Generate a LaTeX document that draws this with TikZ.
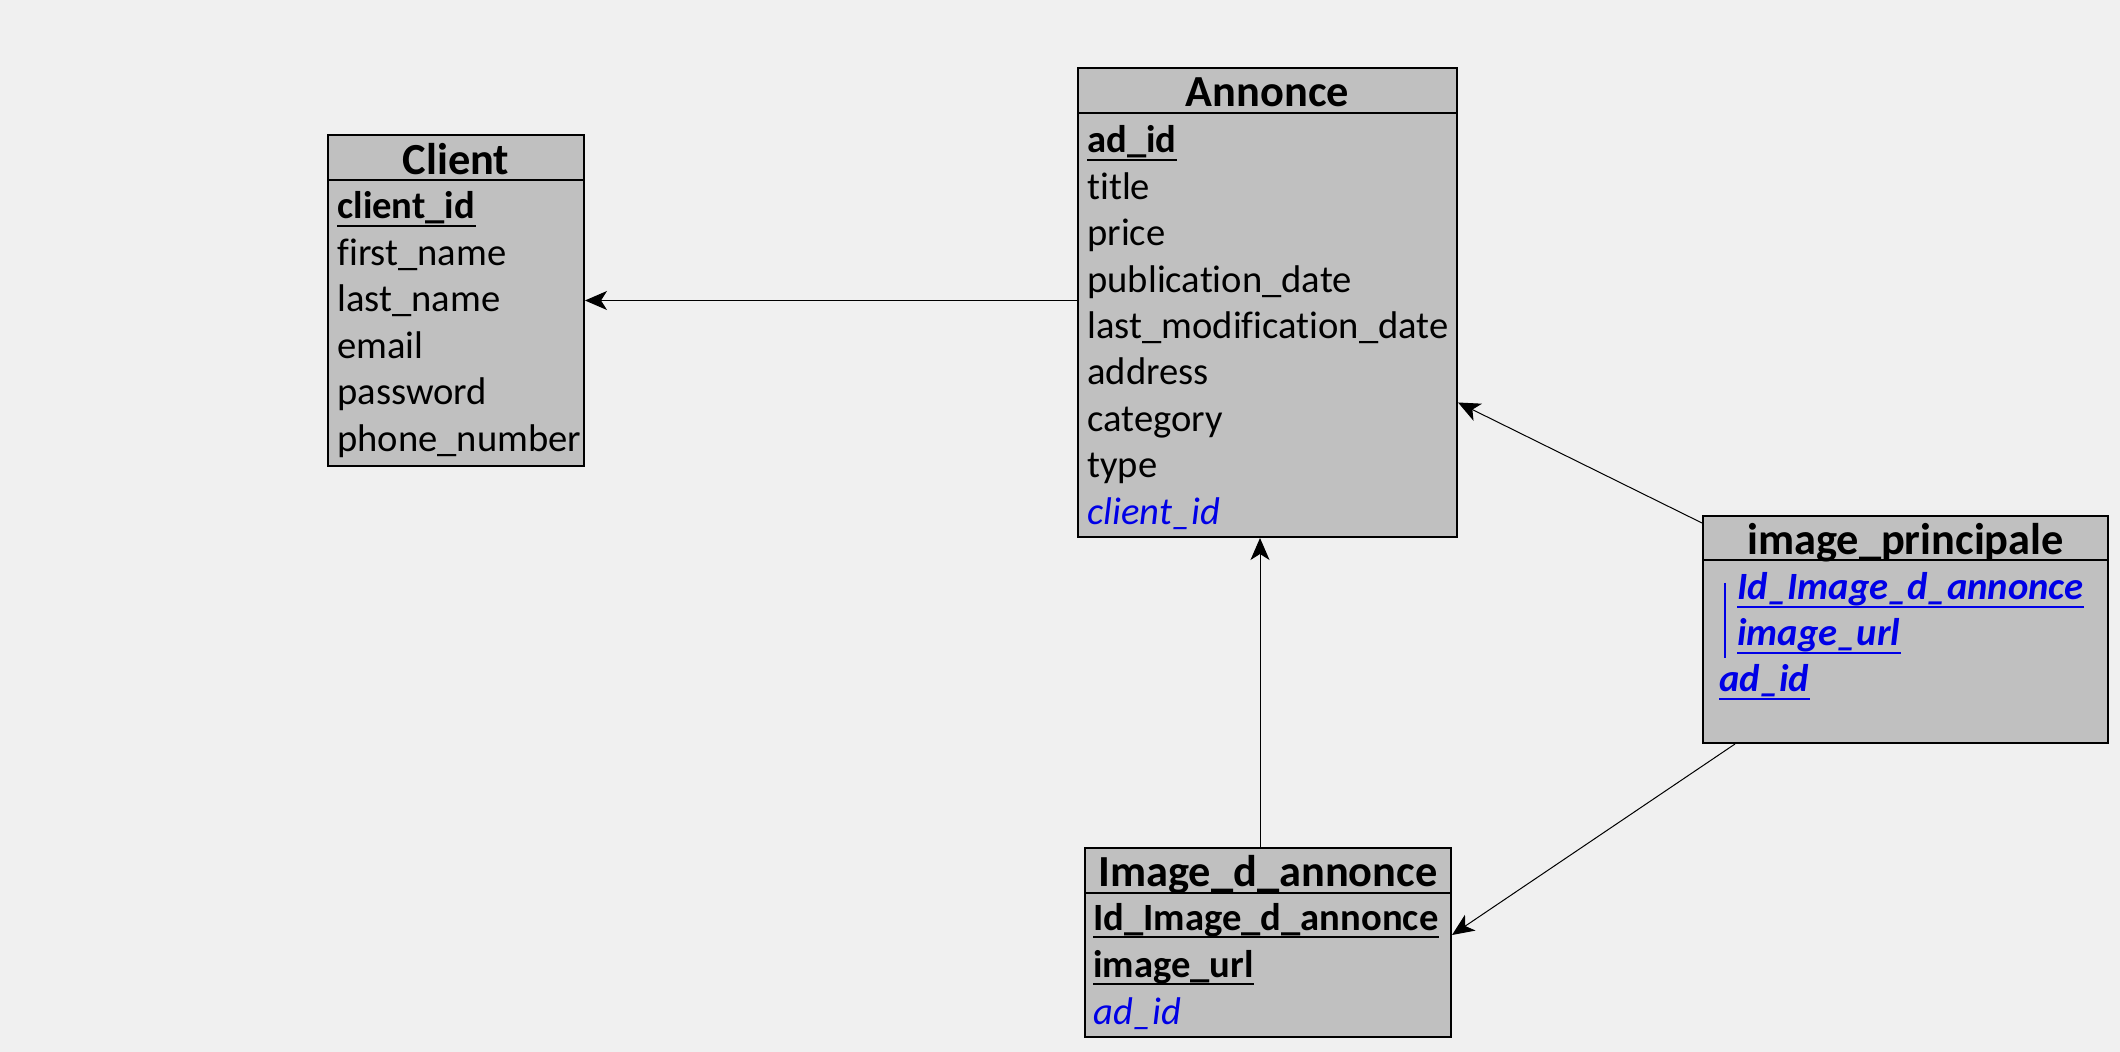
\documentclass[tikz,border=0pt]{standalone}
\usepackage{fontspec}
\setmainfont{Carlito}[Ligatures=NoCommon]
\usetikzlibrary{arrows.meta,fit}
\definecolor{bg}{HTML}{F0F0F0}
\definecolor{boxfill}{HTML}{C0C0C0}
\definecolor{fkblue}{HTML}{0000E6}
\begin{document}
\begin{tikzpicture}[x=0.5pt,y=-0.5pt,
  tbl/.style={draw=black, fill=boxfill, line width=1pt, inner sep=0pt},
  head/.style={font=\fontsize{22.2}{26}\selectfont\bfseries, anchor=base, inner sep=0pt, yshift=-0.8pt},
  attr/.style={font=\fontsize{19.3}{23}\selectfont, anchor=base west, inner sep=0pt, yshift=-1pt},
  pk/.style={attr, font=\fontsize{19.3}{23}\selectfont\bfseries},
  fk/.style={attr, text=fkblue, font=\fontsize{19.3}{23}\selectfont\itshape},
  pkfk/.style={attr, text=fkblue, font=\fontsize{19.3}{23}\selectfont\bfseries\itshape},
  ul/.style={line width=1pt},
  conn/.style={line width=0.5pt, -{Stealth[length=11pt,width=9.5pt,inset=3pt]}}]

% canvas
\fill[bg] (0,0) rectangle (2120,1052);
\useasboundingbox (0,0) rectangle (2120,1052);

% ---------- Client ----------
\node[tbl, fit={(328,135)(584,466)}] (client) {};
\node[tbl, fit={(328,135)(584,180)}] (clienthead) {};
\node[head] (clientname) at (456,173) {Client};
\node[pk] (c1) at (337,217) {client\_id};
\node[attr] (c2) at (337,263.5) {first\_name};
\node[attr] (c3) at (337,310) {last\_name};
\node[attr] (c4) at (337,356.5) {email};
\node[attr] (c5) at (337,403) {password};
\node[attr] (c6) at (337,449.5) {phone\_number};
\draw[ul] ([yshift=-3.5pt]c1.base west) -- ([yshift=-3.5pt]c1.base east);

% ---------- Annonce ----------
\node[tbl, fit={(1078,68)(1457,537)}] (annonce) {};
\node[tbl, fit={(1078,68)(1457,113)}] (annoncehead) {};
\node[head] (annoncename) at (1267.5,105) {Annonce};
\node[pk] (a1) at (1087,151) {ad\_id};
\node[attr] (a2) at (1087,197.4) {title};
\node[attr] (a3) at (1087,243.8) {price};
\node[attr] (a4) at (1087,290.2) {publication\_date};
\node[attr] (a5) at (1087,336.6) {last\_modification\_date};
\node[attr] (a6) at (1087,383) {address};
\node[attr] (a7) at (1087,429.4) {category};
\node[attr] (a8) at (1087,475.8) {type};
\node[fk] (a9) at (1087,522.2) {client\_id};
\draw[ul] ([yshift=-3.5pt]a1.base west) -- ([yshift=-3.5pt]a1.base east);

% ---------- image_principale ----------
\node[tbl, fit={(1703,516)(2108,743)}] (imgp) {};
\node[tbl, fit={(1703,516)(2108,560)}] (imgphead) {};
\node[head] (imgpname) at (1905.5,553) {image\_principale};
\node[pkfk] (p1) at (1737,598) {Id\_Image\_d\_annonce};
\node[pkfk] (p2) at (1737,644) {image\_url};
\node[pkfk] (p3) at (1719,690) {ad\_id};
\foreach \n in {p1,p2,p3}
  \draw[ul, fkblue] ([yshift=-3.5pt]\n.base west) -- ([yshift=-3.5pt]\n.base east);
\coordinate (bartop) at (1725,583);
\coordinate (barbot) at (1725,658);
\draw[line width=1.2pt, fkblue] (bartop) -- (barbot);

% ---------- Image_d_annonce ----------
\node[tbl, fit={(1085,848)(1451,1037)}] (imgd) {};
\node[tbl, fit={(1085,848)(1451,893)}] (imgdhead) {};
\node[head] (imgdname) at (1268,885) {Image\_d\_annonce};
\node[pk] (d1) at (1093,928) {Id\_Image\_d\_annonce};
\node[pk] (d2) at (1093,975) {image\_url};
\node[fk] (d3) at (1093,1022) {ad\_id};
\draw[ul] ([yshift=-3.5pt]d1.base west) -- ([yshift=-3.5pt]d1.base east);
\draw[ul] ([yshift=-3.5pt]d2.base west) -- ([yshift=-3.5pt]d2.base east);

% ---------- relations ----------
\draw[conn] ([yshift=1pt]annonce.west) -- ([yshift=1pt]annonce.west -| client.east);
\draw[conn] ([xshift=-4pt]imgd.north) -- ([xshift=-4pt]imgd.north |- annonce.south);
\draw[conn] ([yshift=-4pt]imgp.north west) -- ([yshift=-50pt]annonce.east);
\draw[conn] ([xshift=16.5pt]imgp.south west) -- ([yshift=3.75pt]imgd.east);
\end{tikzpicture}
\end{document}
